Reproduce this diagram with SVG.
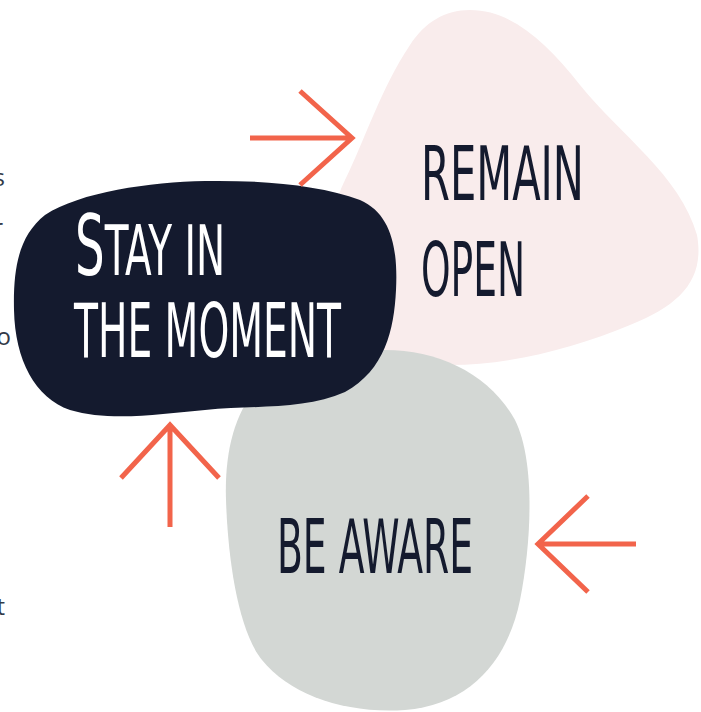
<svg xmlns="http://www.w3.org/2000/svg" width="701" height="712" viewBox="0 0 701 712">
<style>
.frag{font-family:"Open Sans","Liberation Sans",sans-serif;font-size:24px;fill:#333a48;text-anchor:end}
.hand{font-family:"Liberation Sans Narrow","DejaVu Sans Condensed","Liberation Sans",sans-serif;font-size:74px}
.arrow{fill:none;stroke:#f2644b;stroke-width:5;stroke-linecap:butt;stroke-linejoin:miter}
</style>
<rect width="701" height="712" fill="#ffffff"/>
<g id="fragments">
<text class="frag" x="5" y="186">s</text>
<text class="frag" x="3" y="236">r</text>
<text class="frag" x="11" y="345">o</text>
<text class="frag" x="5" y="615">t</text>
</g>
<g id="remain-open">
<path d="M470,10 C510,10 545,40 580,85 C620,135 680,175 697,235 C705,280 680,305 630,325 C575,348 510,365 450,365 C410,365 370,350 350,320 C325,280 325,220 345,180 C365,140 380,90 410,45 C425,22 445,10 470,10 Z" fill="#f9ecec"/>
<text class="hand" fill="#141a2e" x="421" y="200" textLength="163" lengthAdjust="spacingAndGlyphs">REMAIN</text>
<text class="hand" fill="#141a2e" x="421" y="296" textLength="104" lengthAdjust="spacingAndGlyphs">OPEN</text>
</g>
<g id="be-aware">
<path d="M385,350 C440,350 490,375 515,420 C535,460 532,540 520,600 C508,660 470,705 405,710 C345,714 290,695 262,660 C238,630 228,560 226,500 C224,440 240,390 285,366 C315,352 350,350 385,350 Z" fill="#d3d7d4"/>
<text class="hand" fill="#141a2e" x="277" y="573" textLength="196" lengthAdjust="spacingAndGlyphs">BE AWARE</text>
</g>
<g id="stay-in-the-moment">
<path d="M205,181 C260,180 320,185 360,200 C392,214 398,250 396,290 C394,330 385,370 345,392 C305,410 255,405 205,410 C160,414 110,422 70,410 C35,398 15,360 14,310 C13,265 20,235 45,215 C80,192 150,182 205,181 Z" fill="#141a2e"/>
<text class="hand" fill="#ffffff" x="75" y="275" textLength="150" lengthAdjust="spacingAndGlyphs"><tspan font-size="84">S</tspan><tspan font-size="70">TAY IN</tspan></text>
<text class="hand" fill="#ffffff" x="74" y="357" textLength="267" lengthAdjust="spacingAndGlyphs">THE MOMENT</text>
</g>
<g id="connectors">
<path class="arrow" d="M250,138 H352 M300,91 L352,138 L300,185"/>
<path class="arrow" d="M170,527 V425 M121,478 L170,425 L219,478"/>
<path class="arrow" d="M636,544 H538 M588,496 L538,544 L588,592"/>
</g>
</svg>
